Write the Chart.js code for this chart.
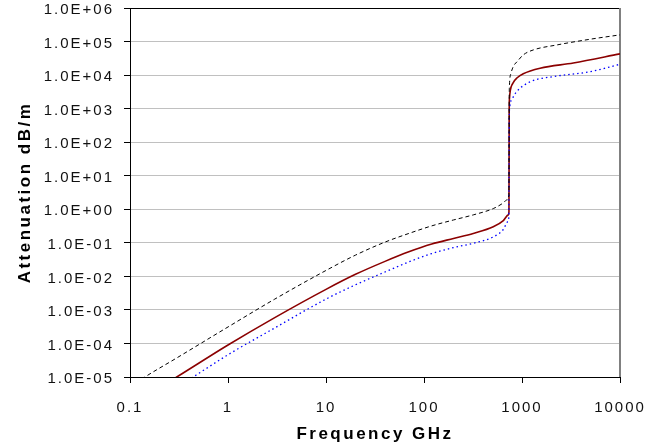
<!DOCTYPE html>
<html lang="en">
<head>
  <meta charset="UTF-8">
  <title>Attenuation vs Frequency</title>
  <script src="https://cdn.jsdelivr.net/npm/chart.js"></script>
  <style>
    body { margin: 0; background: #fff; }
    #grafico { display: block; }
  </style>
</head>
<body>
  <canvas id="grafico" width="661" height="447"></canvas>
<script>
  // values (GHz, dB/m)
  const freqDashed = [0.1, 0.142, 0.3, 1, 3, 10, 20, 40, 70, 120, 200, 318, 509, 645, 700, 735, 740, 745, 770, 815, 900, 1030, 1300, 2260, 4940, 10000];
  const attDashed  = [5e-6, 1e-5, 3.7e-5, 3.1e-4, 2.1e-3, 0.015, 0.043, 0.105, 0.19, 0.32, 0.48, 0.68, 1.05, 1.55, 1.9, 2.6, 1500, 5000, 1.1e4, 1.8e4, 2.6e4, 4.0e4, 5.6e4, 7.9e4, 1.17e5, 1.58e5];

  const freqSolid = [0.1, 0.3, 1, 3, 10, 20, 40, 70, 120, 200, 318, 509, 645, 724, 736, 740, 745, 760, 800, 900, 1030, 1530, 3340, 10000];
  const attSolid  = [1.4e-6, 1e-5, 9e-5, 5.9e-4, 4.1e-3, 0.0115, 0.028, 0.054, 0.092, 0.135, 0.19, 0.30, 0.46, 0.68, 0.85, 800, 2000, 3500, 5500, 8500, 1.1e4, 1.6e4, 2.3e4, 4.3e4];

  const freqDotted = [0.1, 0.44, 1, 3, 10, 20, 40, 70, 120, 200, 318, 509, 645, 717, 734, 740, 750, 800, 883, 1210, 2260, 4940, 10000];
  const attDotted  = [7e-7, 1e-5, 4.6e-5, 2.9e-4, 2.1e-3, 5.6e-3, 0.0135, 0.027, 0.048, 0.072, 0.097, 0.15, 0.25, 0.43, 0.6, 400, 1150, 2000, 3200, 6300, 9300, 1.26e4, 2.1e4];

  const xTicks = [0.1, 1, 10, 100, 1000, 10000];
  const yTicks = [1e-5, 1e-4, 1e-3, 1e-2, 1e-1, 1, 1e1, 1e2, 1e3, 1e4, 1e5, 1e6];

  const pares = (xs, ys) => xs.map((x, i) => ({x, y: ys[i]}));

  // 1.0E+06 style labels
  const expLabel = (v) => {
    const e = Math.round(Math.log10(v));
    return '1.0E' + (e < 0 ? '-' : '+') + String(Math.abs(e)).padStart(2, '0');
  };

  // titles a bit more spaced than tick labels
  const spacedTitle = (s) => {
    s.drawTitle = function () {
      this.ctx.save();
      this.ctx.letterSpacing = '2.5px';
      Chart.Scale.prototype.drawTitle.call(this);
      this.ctx.restore();
    };
  };

  const marco = {
    id: 'marco',
    beforeDraw(chart) { chart.ctx.letterSpacing = '2px'; },
    beforeDatasetsDraw(chart) {
      const {ctx, chartArea: a} = chart;
      ctx.save();
      ctx.strokeStyle = '#000';
      ctx.lineWidth = 1;
      ctx.beginPath(); ctx.moveTo(a.left, a.top + 0.5); ctx.lineTo(a.right, a.top + 0.5); ctx.stroke();
      ctx.strokeStyle = '#808080';
      ctx.lineWidth = 2;
      ctx.beginPath(); ctx.moveTo(a.right, a.top); ctx.lineTo(a.right, a.bottom); ctx.stroke();
      ctx.restore();
    }
  };

  Chart.defaults.font.family = "'Liberation Sans', Arial, sans-serif";
  Chart.defaults.color = '#111';

  const ctx = document.getElementById('grafico').getContext('2d');
  const chart = new Chart(ctx, {
    type: 'line',
    data: {
      datasets: [
        { data: pares(freqDashed, attDashed), borderColor: '#000', borderWidth: 1, borderDash: [4, 3] },
        { data: pares(freqDotted, attDotted), borderColor: '#0000ff', borderWidth: 1.3, borderDash: [1.5, 3] },
        { data: pares(freqSolid, attSolid), borderColor: '#8b0000', borderWidth: 1.6 }
      ]
    },
    options: {
      responsive: false,
      animation: false,
      layout: { padding: { top: 8, right: 41, left: 0, bottom: 0 } },
      elements: {
        point: { radius: 0 },
        line: { cubicInterpolationMode: 'monotone', fill: false }
      },
      plugins: { legend: { display: false }, tooltip: { enabled: false } },
      scales: {
        x: {
          type: 'logarithmic',
          position: 'bottom',
          min: 0.1,
          max: 10000,
          afterBuildTicks: (s) => { s.ticks = xTicks.map(v => ({value: v})); },
          afterFit: (s) => { s.height = 70; s.paddingLeft = 0; s.paddingRight = 0; spacedTitle(s); },
          ticks: {
            autoSkip: false, maxRotation: 0, padding: 16,
            font: { size: 15 },
            callback: (v) => String(v)
          },
          grid: { drawOnChartArea: false, drawTicks: true, tickLength: 6, tickColor: '#000' },
          border: { color: '#000', width: 1 },
          title: {
            display: true, text: 'Frequency GHz', color: '#000',
            font: { size: 17, weight: 'bold' },
            padding: { top: 0, bottom: 2 }
          }
        },
        y: {
          type: 'logarithmic',
          min: 1e-5,
          max: 1e6,
          afterBuildTicks: (s) => { s.ticks = yTicks.map(v => ({value: v})); },
          afterFit: (s) => { s.width = 130; s.paddingTop = 0; s.paddingBottom = 0; spacedTitle(s); },
          ticks: {
            padding: 10, labelOffset: 2,
            font: { size: 15 },
            callback: (v) => expLabel(v)
          },
          grid: { color: '#c0c0c0', lineWidth: 1, tickLength: 6, tickColor: '#000' },
          border: { color: '#000', width: 1 },
          title: {
            display: true, text: 'Attenuation dB/m', color: '#000',
            font: { size: 17, weight: 'bold' },
            padding: { top: 15, bottom: 0 }
          }
        }
      }
    },
    plugins: [marco]
  });
</script>
</body>
</html>
